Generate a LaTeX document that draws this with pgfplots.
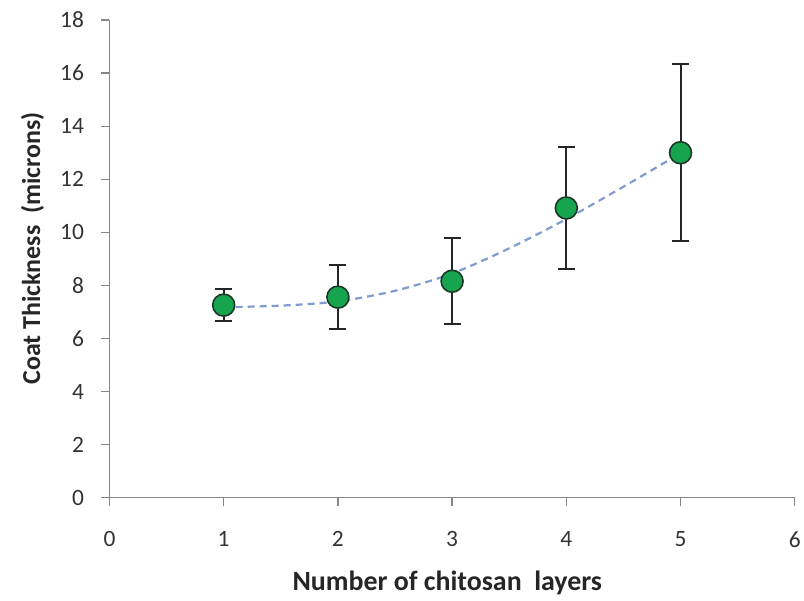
\documentclass[border=0pt]{standalone}
\usepackage{pgfplots}
\pgfplotsset{compat=1.18}
\usepackage{pgfplotstable}
\usepackage{fontspec}
\setmainfont{Carlito}

\definecolor{axisgray}{RGB}{134,134,134}
\definecolor{ptgreen}{RGB}{22,164,78}
\definecolor{ptedge}{RGB}{28,56,40}
\definecolor{trendblue}{RGB}{128,155,205}

% mean coat thickness and standard deviation per number of layers
\pgfplotstableread{
n   t      sd
1   7.26   0.61
2   7.56   1.20
3   8.16   1.62
4   10.92  2.30
5   13.00  3.34
}\coatdata

% fitted trend line
\pgfplotstableread{
n    t
1.0  7.18
1.5  7.24
2.0  7.40
2.5  7.80
3.0  8.45
3.5  9.40
4.0  10.50
4.5  11.72
5.0  12.98
}\trenddata

\begin{document}
\begin{tikzpicture}
\begin{axis}[
  scale only axis,
  width=685.5bp, height=478bp,
  xmin=0, xmax=6, ymin=0, ymax=18,
  xtick={0,1,...,6}, ytick={0,2,...,18},
  axis lines=left,
  axis line style={axisgray, line width=1.3bp, -},
  tick style={axisgray, line width=1.3bp},
  tick align=outside,
  major tick length=8bp,
  /pgf/number format/assume math mode=true,
  ticklabel style={font=\fontsize{23.5}{27}\selectfont, text=black!80},
  xticklabel style={yshift=-22bp},
  yticklabel style={xshift=-14bp},
  xlabel={\textbf{Number of chitosan\ \ layers}},
  ylabel={\textbf{Coat Thickness\ \ (microns)}},
  xlabel style={font=\fontsize{28}{32}\selectfont, at={(axis description cs:0.493,-0.178)}, anchor=center, text=black!85},
  ylabel style={font=\fontsize{26}{30}\selectfont, at={(axis description cs:-0.1125,0.522)}, anchor=center, text=black!85},
  clip=false,
]
\addplot[trendblue, line width=2.2bp, dash pattern=on 7bp off 5bp, smooth] table[x=n, y=t] {\trenddata};
\addplot[only marks, mark=none, black!85, line width=2bp,
  error bars/.cd, y dir=both, y explicit,
  error bar style={black!85, line width=2bp},
  error mark options={rotate=90, mark size=8.5bp, black!85, line width=2bp}]
  table[x=n, y=t, y error=sd] {\coatdata};
\addplot[only marks, mark=*, mark size=11bp,
  mark options={fill=ptgreen, draw=ptedge, line width=1.6bp}]
  table[x=n, y=t] {\coatdata};
\path (rel axis cs:0,0) ++(-109.5bp,-103bp) coordinate (bbA);
\path (rel axis cs:1,1) ++(9bp,20bp) coordinate (bbB);
\path (bbA) rectangle (bbB);
\end{axis}
\end{tikzpicture}
\end{document}
